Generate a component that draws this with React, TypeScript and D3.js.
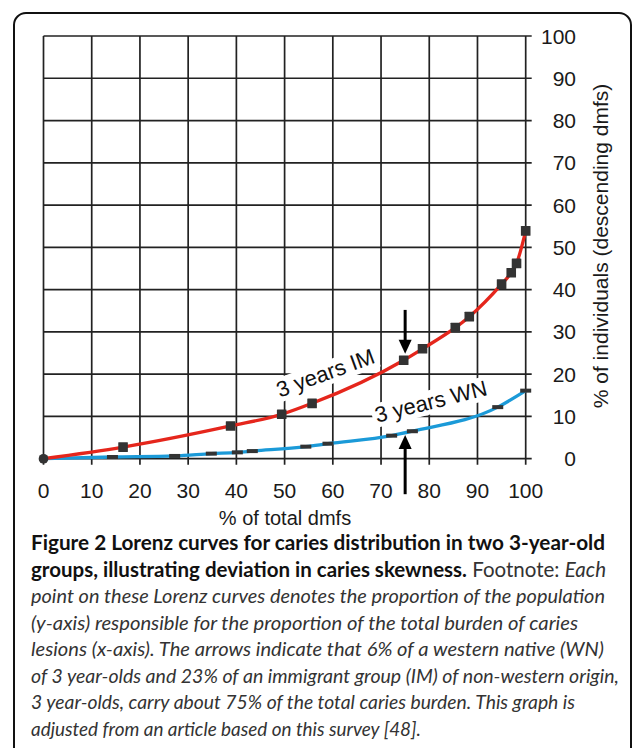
import { useEffect, useRef } from 'react'
import * as d3 from 'd3'

// axis ticks (both axes run 0..100 in steps of 10)
const xTicks = [0, 10, 20, 30, 40, 50, 60, 70, 80, 90, 100]
const yTicks = [0, 10, 20, 30, 40, 50, 60, 70, 80, 90, 100]

// 3 years IM (immigrant group)
const imX = [0, 16.5, 38.8, 49.4, 55.7, 74.7, 78.6, 85.4, 88.3, 95.0, 97.0, 98.1, 100]
const imY = [0, 2.75, 7.75, 10.5, 13.1, 23.3, 26.0, 31.0, 33.6, 41.3, 44.0, 46.2, 53.9]

// 3 years WN (western native)
const wnX = [0, 14.3, 27.2, 34.8, 40.2, 43.3, 54.4, 59.0, 72.2, 76.5, 94.2, 100]
const wnY = [0, 0.4, 0.65, 1.2, 1.5, 1.8, 2.85, 3.55, 5.45, 6.5, 12.2, 16.1]

// arrows at 75% of total dmfs: [from, to] in y units
const arrowAt = 75
const imArrow = [35.2, 24.8]
const wnArrow = [-8.4, 5.6]

const captionLines = [
	[{ t: 'Figure 2 Lorenz curves for caries distribution in two 3-year-old', s: 'b' }],
	[
		{ t: 'groups, illustrating deviation in caries skewness.', s: 'b' },
		{ t: ' Footnote: ', s: 'n' },
		{ t: 'Each', s: 'i' },
	],
	[{ t: 'point on these Lorenz curves denotes the proportion of the population', s: 'i' }],
	[{ t: '(y-axis) responsible for the proportion of the total burden of caries', s: 'i' }],
	[{ t: 'lesions (x-axis). The arrows indicate that 6% of a western native (WN)', s: 'i' }],
	[{ t: 'of 3 year-olds and 23% of an immigrant group (IM) of non-western origin,', s: 'i' }],
	[{ t: '3 year-olds, carry about 75% of the total caries burden. This graph is', s: 'i' }],
	[{ t: 'adjusted from an article based on this survey [48].', s: 'i' }],
]
// where each caption line ends in the original layout
const captionRight = [605, 606, 605, 578, 604, 619, 575, 421]

const W = 633
const H = 748

const App = () => {
	const svgRef = useRef(null)

	useEffect(() => {
		const svg = d3.select(svgRef.current)
		svg.selectAll('*').remove()

		const x = d3.scaleLinear().domain([0, 100]).range([43.5, 525.7])
		const y = d3.scaleLinear().domain([0, 100]).range([458.7, 36])

		svg.append('rect').attr('width', W).attr('height', H).attr('fill', '#fff')

		// rounded frame round the figure
		svg
			.append('rect')
			.attr('x', 14)
			.attr('y', 13)
			.attr('width', 617)
			.attr('height', 780)
			.attr('rx', 12)
			.attr('fill', 'none')
			.attr('stroke', '#111')
			.attr('stroke-width', 2)

		const font = "'Liberation Sans', Arial, sans-serif"
		const gridColor = '#222'

		// grid
		const grid = svg.append('g').attr('stroke', gridColor).attr('stroke-width', 1.7)
		grid
			.selectAll('line.v')
			.data(xTicks)
			.enter()
			.append('line')
			.attr('x1', (d) => x(d))
			.attr('x2', (d) => x(d))
			.attr('y1', y(100))
			.attr('y2', y(0) + 6)
		grid
			.selectAll('line.h')
			.data(yTicks)
			.enter()
			.append('line')
			.attr('x1', x(0))
			.attr('x2', x(100) + 6)
			.attr('y1', (d) => y(d))
			.attr('y2', (d) => y(d))

		// tick labels
		svg
			.append('g')
			.selectAll('text')
			.data(xTicks)
			.enter()
			.append('text')
			.attr('x', (d) => x(d))
			.attr('y', 498)
			.attr('text-anchor', 'middle')
			.style('font-family', font)
			.style('font-size', '21px')
			.attr('fill', '#1a1a1a')
			.text((d) => d)
		svg
			.append('g')
			.selectAll('text')
			.data(yTicks)
			.enter()
			.append('text')
			.attr('x', 576)
			.attr('y', (d) => y(d) + 7.5)
			.attr('text-anchor', 'end')
			.style('font-family', font)
			.style('font-size', '21px')
			.attr('fill', '#1a1a1a')
			.text((d) => d)

		// axis titles
		svg
			.append('text')
			.attr('x', 285)
			.attr('y', 525)
			.attr('text-anchor', 'middle')
			.style('font-family', font)
			.style('font-size', '20px')
			.attr('fill', '#1a1a1a')
			.text('% of total dmfs')
		svg
			.append('text')
			.attr('transform', `translate(608,246) rotate(-90)`)
			.attr('text-anchor', 'middle')
			.style('font-family', font)
			.style('font-size', '21px')
			.attr('fill', '#1a1a1a')
			.text('% of individuals (descending dmfs)')

		// curve labels with white boxes that hide the grid
		const addLabel = (lx, ly, angle, txt) => {
			const g = svg
				.append('g')
				.attr('transform', `translate(${x(lx)},${y(ly)}) rotate(${angle})`)
			const bg = g.append('rect').attr('fill', '#fff')
			const t = g
				.append('text')
				.attr('text-anchor', 'middle')
				.style('font-family', font)
				.style('font-size', '22px')
				.attr('fill', '#111')
				.text(txt)
			const b = t.node().getBBox()
			bg.attr('x', b.x - 3)
				.attr('y', b.y + 1)
				.attr('width', b.width + 6)
				.attr('height', b.height - 1)
		}
		addLabel(59.0, 18.6, -20, '3 years IM')
		addLabel(80.7, 11.8, -14, '3 years WN')

		const line = d3
			.line()
			.x((d) => x(d[0]))
			.y((d) => y(d[1]))
			.curve(d3.curveMonotoneX)

		const im = imX.map((v, i) => [v, imY[i]])
		const wn = wnX.map((v, i) => [v, wnY[i]])

		svg
			.append('path')
			.datum(wn)
			.attr('d', line)
			.attr('fill', 'none')
			.attr('stroke', '#1b9ad8')
			.attr('stroke-width', 3.3)
		svg
			.append('path')
			.datum(im)
			.attr('d', line)
			.attr('fill', 'none')
			.attr('stroke', '#e5261c')
			.attr('stroke-width', 3.3)

		// markers: squares on IM, flat dashes on WN
		svg
			.selectAll('rect.wn')
			.data(wn.slice(1))
			.enter()
			.append('rect')
			.attr('x', (d) => x(d[0]) - 5.5)
			.attr('y', (d) => y(d[1]) - 2)
			.attr('width', 11)
			.attr('height', 4)
			.attr('fill', '#333')
		svg
			.selectAll('rect.im')
			.data(im)
			.enter()
			.append('rect')
			.attr('x', (d) => x(d[0]) - 4.8)
			.attr('y', (d) => y(d[1]) - 4.8)
			.attr('width', 9.6)
			.attr('height', 9.6)
			.attr('rx', (d, i) => (i === 0 ? 4.5 : 0.5))
			.attr('fill', '#333')

		// arrows
		const addArrow = (from, to) => {
			const ax = x(arrowAt)
			const dir = y(to) > y(from) ? 1 : -1
			svg
				.append('line')
				.attr('x1', ax)
				.attr('x2', ax)
				.attr('y1', y(from))
				.attr('y2', y(to) - dir * 10)
				.attr('stroke', '#000')
				.attr('stroke-width', 3)
			svg
				.append('path')
				.attr(
					'd',
					`M${ax},${y(to)} L${ax - 6.5},${y(to) - dir * 14} L${ax + 6.5},${y(to) - dir * 14} Z`
				)
				.attr('fill', '#000')
		}
		addArrow(imArrow[0], imArrow[1])
		addArrow(wnArrow[0], wnArrow[1])

		// caption, one text per line stretched to the original line ends
		captionLines.forEach((parts, li) => {
			const t = svg
				.append('text')
				.attr('x', 31)
				.attr('y', 550 + li * 26.5)
				.attr('textLength', captionRight[li] - 31)
				.attr('lengthAdjust', 'spacingAndGlyphs')
				.style('font-family', "Lato, 'Open Sans', sans-serif")
				.style('font-size', li < 2 ? '20.5px' : '19.5px')
			parts.forEach((p) => {
				const ts = t.append('tspan').text(p.t)
				if (p.s === 'b') ts.style('font-weight', 700).attr('fill', '#111')
				if (p.s === 'n') ts.attr('fill', '#333')
				if (p.s === 'i') ts.style('font-style', 'italic').attr('fill', '#333')
			})
		})
	}, [])

	return (
		<svg
			ref={svgRef}
			width={W}
			height={H}
			style={{ position: 'absolute', left: 0, top: 0 }}
		></svg>
	)
}

export default App
